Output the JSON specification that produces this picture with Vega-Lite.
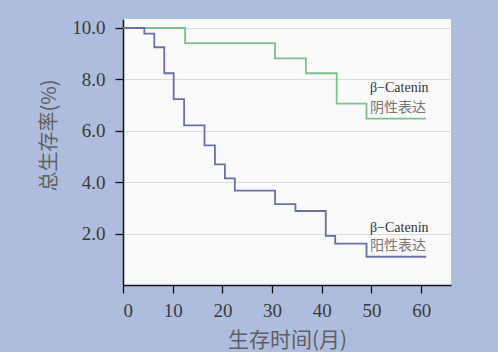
{
  "$schema": "https://vega.github.io/schema/vega-lite/v6.json",
  "width": 328,
  "height": 266,
  "autosize": "none",
  "padding": {"left": 123, "top": 19, "right": 47, "bottom": 67},
  "background": "#aebdde",
  "config": {
    "view": {"fill": "#fafafa", "stroke": null},
    "axis": {
      "labelFont": "Liberation Serif",
      "labelFontSize": 19,
      "labelColor": "#3a3a3a",
      "titleFont": "Noto Sans CJK SC",
      "titleFontWeight": "normal",
      "titleColor": "#606060",
      "domainColor": "#111111",
      "domainWidth": 1.5,
      "tickColor": "#111111",
      "tickSize": 8,
      "tickWidth": 1.3
    }
  },
  "datasets": {
    "curves": [
      {"group": "neg", "t": 0, "s": 10},
      {"group": "neg", "t": 12.5, "s": 9.41},
      {"group": "neg", "t": 30.6, "s": 8.82},
      {"group": "neg", "t": 36.8, "s": 8.24},
      {"group": "neg", "t": 43.0, "s": 7.06},
      {"group": "neg", "t": 49.0, "s": 6.47},
      {"group": "neg", "t": 61.0, "s": 6.47},
      {"group": "pos", "t": 0, "s": 10},
      {"group": "pos", "t": 4.3, "s": 9.78},
      {"group": "pos", "t": 6.3, "s": 9.25},
      {"group": "pos", "t": 8.3, "s": 8.24},
      {"group": "pos", "t": 10.2, "s": 7.23},
      {"group": "pos", "t": 12.3, "s": 6.21},
      {"group": "pos", "t": 16.4, "s": 5.43},
      {"group": "pos", "t": 18.5, "s": 4.69},
      {"group": "pos", "t": 20.5, "s": 4.15},
      {"group": "pos", "t": 22.5, "s": 3.67},
      {"group": "pos", "t": 30.6, "s": 3.15},
      {"group": "pos", "t": 34.7, "s": 2.88},
      {"group": "pos", "t": 40.8, "s": 1.91},
      {"group": "pos", "t": 42.7, "s": 1.61},
      {"group": "pos", "t": 49.0, "s": 1.1},
      {"group": "pos", "t": 61.0, "s": 1.1}
    ],
    "names": [
      {"label": "β−Catenin", "t": 49.7, "s": 7.67},
      {"label": "β−Catenin", "t": 49.7, "s": 2.22}
    ],
    "kinds": [
      {"label": "阴性表达", "t": 49.7, "s": 6.89},
      {"label": "阳性表达", "t": 49.7, "s": 1.52}
    ]
  },
  "layer": [
    {
      "data": {"name": "curves"},
      "mark": {"type": "line", "interpolate": "step-after", "strokeWidth": 1.8},
      "encoding": {
        "x": {
          "field": "t",
          "type": "quantitative",
          "scale": {"domain": [0, 66], "nice": false, "zero": false},
          "axis": {
            "values": [0, 10, 20, 30, 40, 50, 60],
            "grid": false,
            "title": "生存时间(月)",
            "titleFontSize": 21,
            "labelPadding": 8,
            "titlePadding": 9
          }
        },
        "y": {
          "field": "s",
          "type": "quantitative",
          "scale": {"domain": [0, 10.35], "nice": false},
          "axis": {
            "values": [2, 4, 6, 8, 10],
            "format": ".1f",
            "grid": true,
            "gridColor": "#dddddd",
            "title": "总生存率(%)",
            "titleFontSize": 20,
            "labelPadding": 10,
            "titleX": -74,
            "titleY": 116,
            "titleAlign": "center",
            "titleBaseline": "middle"
          }
        },
        "color": {
          "field": "group",
          "type": "nominal",
          "scale": {"domain": ["neg", "pos"], "range": ["#7cc08e", "#6b6fa8"]},
          "legend": null
        }
      }
    },
    {
      "data": {"name": "names"},
      "mark": {"type": "text", "align": "left", "baseline": "middle", "font": "Liberation Serif", "fontSize": 14, "color": "#333333"},
      "encoding": {
        "x": {"field": "t", "type": "quantitative"},
        "y": {"field": "s", "type": "quantitative"},
        "text": {"field": "label"}
      }
    },
    {
      "data": {"name": "kinds"},
      "mark": {"type": "text", "align": "left", "baseline": "middle", "font": "Noto Sans CJK SC", "fontSize": 14, "color": "#777777"},
      "encoding": {
        "x": {"field": "t", "type": "quantitative"},
        "y": {"field": "s", "type": "quantitative"},
        "text": {"field": "label"}
      }
    }
  ]
}
